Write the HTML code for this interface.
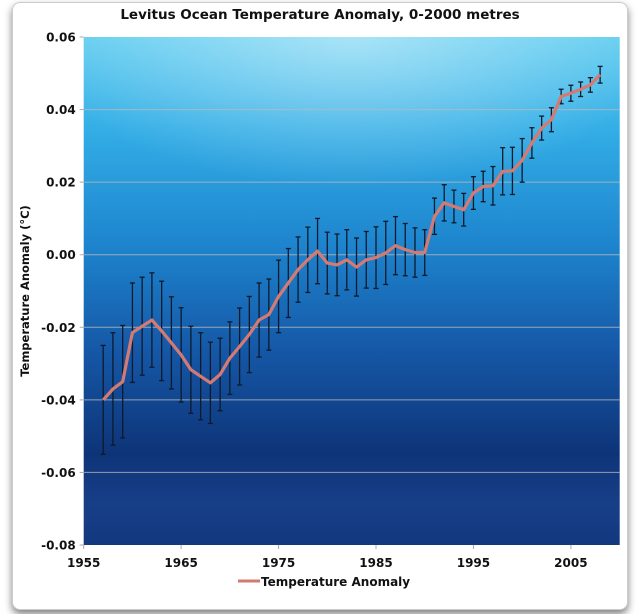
<!DOCTYPE html>
<html><head><meta charset="utf-8">
<style>
html,body{margin:0;padding:0;background:#fff;width:640px;height:614px;overflow:hidden}
#card{position:absolute;left:12px;top:2px;width:614px;height:606px;background:#fff;border-radius:8px;box-shadow:0 4px 8px rgba(0,0,0,0.5);border:1px solid #ccc}
svg{position:absolute;left:0;top:0}
text{font-family:"DejaVu Sans","Liberation Sans",sans-serif;font-weight:bold;fill:#111}
</style></head><body>
<div id="card"></div>
<svg id="chart" width="640" height="614">
<defs>
<linearGradient id="sea" x1="0" y1="0" x2="0" y2="1">
<stop offset="0" stop-color="#62cdf0"/>
<stop offset="0.18" stop-color="#33aee6"/>
<stop offset="0.4" stop-color="#1e86cf"/>
<stop offset="0.62" stop-color="#1557a6"/>
<stop offset="0.82" stop-color="#0e3478"/>
<stop offset="0.92" stop-color="#173f88"/>
<stop offset="1" stop-color="#12387e"/>
</linearGradient>
<radialGradient id="glow" cx="0.5" cy="0" r="0.6">
<stop offset="0" stop-color="#ffffff" stop-opacity="0.45"/>
<stop offset="1" stop-color="#ffffff" stop-opacity="0"/>
</radialGradient>
</defs>
<rect x="83.7" y="37" width="536" height="508" fill="url(#sea)"/>
<rect x="83.7" y="37" width="536" height="250" fill="url(#glow)"/>
<text x="320" y="19" text-anchor="middle" font-size="13.5">Levitus Ocean Temperature Anomaly, 0-2000 metres</text>
<text transform="translate(29,291) rotate(-90)" text-anchor="middle" font-size="11.5">Temperature Anomaly (°C)</text>
<g id="grid"></g><g id="axes"></g><g id="errs"></g><g id="series"></g>
<line x1="238" y1="581" x2="260" y2="581" stroke="#d47a72" stroke-width="3"/>
<text x="261" y="586" font-size="12">Temperature Anomaly</text>
</svg>
<script>
const years=[1957,1958,1959,1960,1961,1962,1963,1964,1965,1966,1967,1968,1969,1970,1971,1972,1973,1974,1975,1976,1977,1978,1979,1980,1981,1982,1983,1984,1985,1986,1987,1988,1989,1990,1991,1992,1993,1994,1995,1996,1997,1998,1999,2000,2001,2002,2003,2004,2005,2006,2007,2008];
const anomaly=[-0.040,-0.037,-0.035,-0.0215,-0.0197,-0.018,-0.021,-0.0243,-0.0276,-0.0317,-0.0335,-0.0353,-0.033,-0.0285,-0.0253,-0.022,-0.018,-0.0165,-0.0115,-0.0078,-0.0041,-0.0014,0.001,-0.0023,-0.0028,-0.0014,-0.0034,-0.0014,-0.0008,0.0005,0.0025,0.0014,0.0006,0.0006,0.0106,0.0143,0.0133,0.0124,0.017,0.0188,0.019,0.023,0.0231,0.026,0.0308,0.0349,0.0372,0.0436,0.0445,0.0456,0.0468,0.0496];
const errors=[0.015,0.0155,0.0155,0.0137,0.0135,0.013,0.0137,0.0127,0.013,0.012,0.012,0.0112,0.01,0.01,0.0106,0.0105,0.0102,0.0098,0.01,0.0095,0.009,0.009,0.009,0.0085,0.0085,0.0083,0.008,0.0078,0.0085,0.0087,0.008,0.0072,0.0068,0.0063,0.005,0.005,0.0045,0.0045,0.0045,0.0042,0.0053,0.0065,0.0065,0.006,0.0042,0.0033,0.0033,0.002,0.0022,0.002,0.002,0.0023];
const yTicks=[0.06,0.04,0.02,0.00,-0.02,-0.04,-0.06,-0.08];
const yTickLabels=["0.06","0.04","0.02","0.00","-0.02","-0.04","-0.06","-0.08"];
const xTicks=[1955,1965,1975,1985,1995,2005];
const NS='http://www.w3.org/2000/svg';
const X0=83.7,X1=619.6,Y0=37,Y1=545,XMIN=1955,XMAX=2010,YMIN=-0.08,YMAX=0.06;
function xs(v){return X0+(v-XMIN)/(XMAX-XMIN)*(X1-X0);}
function ys(v){return Y1-(v-YMIN)/(YMAX-YMIN)*(Y1-Y0);}
function mk(tag,attrs,parent){const e=document.createElementNS(NS,tag);for(const k in attrs)e.setAttribute(k,attrs[k]);parent.appendChild(e);return e;}
const grid=document.getElementById('grid'),axes=document.getElementById('axes'),errs=document.getElementById('errs'),series=document.getElementById('series');
yTicks.forEach((t,i)=>{
  if(t>YMIN&&t<YMAX){const g=mk('line',{x1:X0,x2:X1,y1:ys(t),y2:ys(t),stroke:'#b9b9b9','stroke-opacity':0.8,'stroke-width':1},grid);
  
  }
  const tk=mk('line',{x1:X0-4,x2:X0,y1:ys(t),y2:ys(t),stroke:'#aaa'},axes);
  
  
  const l=mk('text',{x:X0-8,y:ys(t)+4.5,'text-anchor':'end','font-size':12},axes);l.textContent=yTickLabels[i];
  
  
});
xTicks.forEach(t=>{
  const tk=mk('line',{x1:xs(t),x2:xs(t),y1:Y1,y2:Y1+4,stroke:'#aaa'},axes);
  
  
  const l=mk('text',{x:xs(t),y:567,'text-anchor':'middle','font-size':12},axes);l.textContent=t;
  
  
});
years.forEach((yr,i)=>{
  const x=xs(yr),t=ys(anomaly[i]+errors[i]),b=ys(anomaly[i]-errors[i]);
  const g=mk('g',{stroke:'#0d1a2c','stroke-width':1.3},errs);
  
  
  mk('line',{x1:x,x2:x,y1:t,y2:b},g);
  mk('line',{x1:x-2.5,x2:x+2.5,y1:t,y2:t},g);
  mk('line',{x1:x-2.5,x2:x+2.5,y1:b,y2:b},g);
});
const pts=years.map((yr,i)=>xs(yr).toFixed(1)+','+ys(anomaly[i]).toFixed(1)).join(' ');
const pl=mk('polyline',{points:pts,fill:'none',stroke:'#d47a72','stroke-width':3.2,'stroke-linejoin':'round'},series);


</script>
</body></html>
